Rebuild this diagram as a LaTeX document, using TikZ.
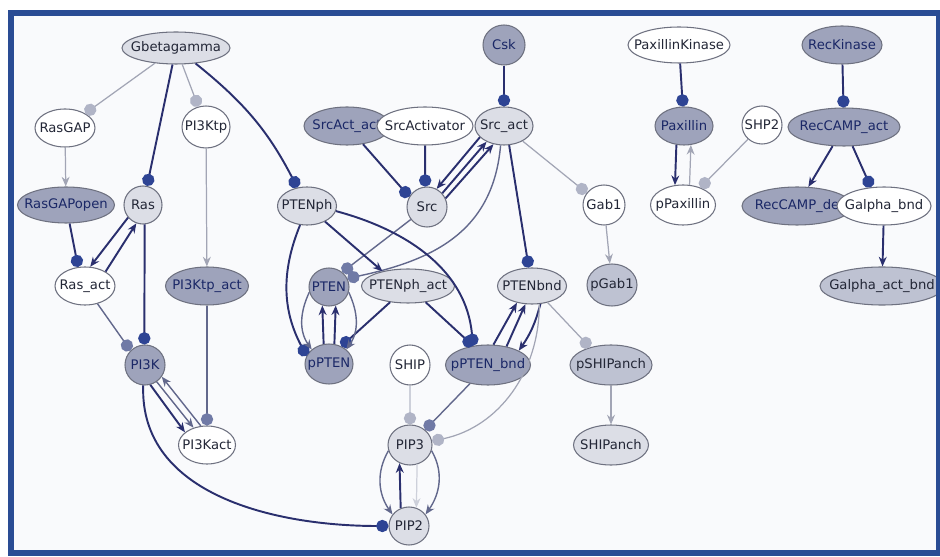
\documentclass[tikz,border=0pt]{standalone}
\usepackage{fontspec}
\setmainfont{DejaVu Sans}
\usetikzlibrary{shapes.geometric,arrows.meta}
\definecolor{navy}{HTML}{2A2F6E}
\definecolor{midln}{HTML}{62688C}
\definecolor{greyln}{HTML}{A2A5B5}
\definecolor{lightln}{HTML}{CDD0DA}
\definecolor{dotnavy}{HTML}{2E4494}
\definecolor{dotmid}{HTML}{707AA6}
\definecolor{dotgrey}{HTML}{B0B4C6}
\definecolor{bord}{HTML}{6E7180}
\definecolor{lfill}{HTML}{DCDEE6}
\definecolor{mfill}{HTML}{BEC2D2}
\definecolor{dfill}{HTML}{9EA3BB}
\definecolor{ntext}{HTML}{222636}
\definecolor{dtext}{HTML}{1A2766}
\definecolor{frame}{HTML}{2A4C94}
\definecolor{bgfill}{HTML}{F9FAFC}

\begin{document}
\begin{tikzpicture}[x=0.2mm,y=0.2mm]
\tikzstyle{every node}+=[inner sep=0pt]
\tikzstyle{nd}=[ellipse, draw=bord, line width=0.6pt, font=\fontsize{7.5}{9}\selectfont, text=ntext, execute at begin node={\hbox to 0pt\bgroup\hss}, execute at end node={\hss\egroup}]
\tikzstyle{wht}=[nd, fill=white]
\tikzstyle{lgt}=[nd, fill=lfill]
\tikzstyle{mid}=[nd, fill=mfill]
\tikzstyle{drk}=[nd, fill=dfill, text=dtext]
\tikzstyle{act}=[navy, line width=1.1pt, -{Stealth[length=5.5pt,width=4.5pt]}]
\tikzstyle{actm}=[midln, line width=0.8pt, -{Stealth[length=5.5pt,width=4.5pt]}]
\tikzstyle{actg}=[greyln, line width=0.7pt, -{Stealth[length=5.5pt,width=4.5pt]}]
\tikzstyle{actl}=[lightln, line width=0.7pt, -{Stealth[length=5.5pt,width=4.5pt]}]
\tikzstyle{bind}=[navy, line width=1.1pt, -{Circle[length=7pt,color=dotnavy]}]
\tikzstyle{bindm}=[midln, line width=0.8pt, -{Circle[length=7pt,color=dotmid]}]
\tikzstyle{bindg}=[greyln, line width=0.7pt, -{Circle[length=7pt,color=dotgrey]}]
\tikzstyle{bindl}=[lightln, line width=0.7pt, -{Circle[length=7pt,color=dotgrey]}]
\useasboundingbox (0,0) rectangle (940,-557);
\fill [bgfill] (11,-13) rectangle (939,-553);
\node [lgt, minimum width=21.6mm, minimum height=6.4mm] (gbg) at (176,-48) {Gbetagamma};
\node [wht, minimum width=12mm, minimum height=7.6mm] (rasgap) at (65,-128) {RasGAP};
\node [wht, minimum width=9.6mm, minimum height=8.4mm] (pi3ktp) at (206,-127) {PI3Ktp};
\node [drk, minimum width=19.4mm, minimum height=7.2mm] (rasgapo) at (66,-205) {RasGAPopen};
\node [lgt, minimum width=7.6mm, minimum height=7.6mm] (ras) at (143,-205) {Ras};
\node [lgt, minimum width=11.8mm, minimum height=7.6mm] (ptenph) at (307,-206) {PTENph};
\node [wht, minimum width=12mm, minimum height=7.6mm] (rasact) at (85,-286) {Ras\_act};
\node [drk, minimum width=16.6mm, minimum height=7.6mm] (pi3ktpact) at (207,-286) {PI3Ktp\_act};
\node [drk, minimum width=8mm, minimum height=8mm] (pi3k) at (145,-365) {PI3K};
\node [wht, minimum width=11.4mm, minimum height=7.6mm] (pi3kact) at (207,-445) {PI3Kact};
\node [drk, minimum width=8.4mm, minimum height=8mm] (csk) at (504,-45) {Csk};
\node [drk, minimum width=17.2mm, minimum height=7.6mm] (srcactact) at (347,-126) {SrcAct\_act};
\node [wht, minimum width=19.2mm, minimum height=7.6mm] (srcactv) at (425,-126) {SrcActivator};
\node [lgt, minimum width=11.6mm, minimum height=7.6mm] (srcact) at (504,-126) {Src\_act};
\node [lgt, minimum width=8mm, minimum height=8mm] (src) at (427,-207) {Src};
\node [wht, minimum width=8.4mm, minimum height=8mm] (gab1) at (604,-205) {Gab1};
\node [drk, minimum width=8mm, minimum height=7.6mm] (pten) at (329,-287) {PTEN};
\node [lgt, minimum width=18.6mm, minimum height=6.8mm] (ptenphact) at (408,-286) {PTENph\_act};
\node [lgt, minimum width=13.8mm, minimum height=7.2mm] (ptenbnd) at (532,-286) {PTENbnd};
\node [mid, minimum width=10mm, minimum height=8.4mm] (pgab1) at (612,-285) {pGab1};
\node [drk, minimum width=9.6mm, minimum height=8mm] (ppten) at (329,-364) {pPTEN};
\node [wht, minimum width=8mm, minimum height=8mm] (ship) at (410,-365) {SHIP};
\node [drk, minimum width=17mm, minimum height=8mm] (pptenbnd) at (488,-365) {pPTEN\_bnd};
\node [mid, minimum width=16.4mm, minimum height=8mm] (pshipanch) at (611,-365) {pSHIPanch};
\node [lgt, minimum width=8.8mm, minimum height=8mm] (pip3) at (410,-445) {PIP3};
\node [lgt, minimum width=15mm, minimum height=8mm] (shipanch) at (611,-445) {SHIPanch};
\node [lgt, minimum width=8mm, minimum height=7.6mm] (pip2) at (409,-526) {PIP2};
\node [wht, minimum width=20.4mm, minimum height=7.2mm] (paxk) at (679,-45) {PaxillinKinase};
\node [drk, minimum width=11.6mm, minimum height=7.6mm] (pax) at (684,-126) {Paxillin};
\node [wht, minimum width=8mm, minimum height=7.6mm] (shp2) at (762,-125) {SHP2};
\node [wht, minimum width=13mm, minimum height=8mm] (ppax) at (683,-205) {pPaxillin};
\node [drk, minimum width=16mm, minimum height=7.6mm] (reck) at (842,-45) {RecKinase};
\node [drk, minimum width=22.4mm, minimum height=7.6mm] (reccact) at (844,-127) {RecCAMP\_act};
\node [drk, minimum width=22mm, minimum height=7.6mm] (reccde) at (797,-206) {RecCAMP\_de};
\node [wht, minimum width=18.8mm, minimum height=7.6mm] (galb) at (884,-206) {Galpha\_bnd};
\node [mid, minimum width=24.8mm, minimum height=7.6mm] (galab) at (882,-286) {Galpha\_act\_bnd};
\draw [bindg] (gbg) -- (rasgap);
\draw [bind] (gbg) -- (ras);
\draw [bindg] (gbg) -- (pi3ktp);
\draw [bind] (gbg) to [bend left=12] (ptenph);
\draw [actg] (rasgap) -- (rasgapo);
\draw [bind] (rasgapo) -- (rasact.110);
\draw [act] (ras.220) -- (rasact.75);
\draw [act] (rasact.35) -- (ras.250);
\draw [actg] (pi3ktp) -- (pi3ktpact);
\draw [bind] (ras.-85) -- (pi3k.92);
\draw [bindm] (rasact) -- (pi3k.135);
\draw [act] (pi3k.285) -- (pi3kact.150);
\draw [actm] (pi3k.305) -- (pi3kact.128);
\draw [actm] (pi3kact.108) -- (pi3k.325);
\draw [bindm] (pi3ktpact) -- (pi3kact);
\draw [bind] (pi3k.265) to [out=-92,in=180] (pip2.180);
\draw [bind] (csk) -- (srcact);
\draw [bind] (srcactact) -- (src.150);
\draw [bind] (srcactv) -- (src.95);
\draw [act] (srcact.205) -- (src.62);
\draw [act] (src.42) -- (srcact.222);
\draw [act] (src.25) -- (srcact.240);
\draw [bind] (srcact.-75) -- (ptenbnd.100);
\draw [bindg] (srcact) -- (gab1.145);
\draw [bindm] (srcact.-100) to [out=-95,in=12,looseness=1.1] (pten.25);
\draw [bindm] (src) -- (pten.48);
\draw [act] (ptenph) -- (ptenphact.150);
\draw [bind] (ptenph.250) to [bend right=25] (ppten.160);
\draw [bind] (ptenph.-10) to [out=-15,in=95] (pptenbnd.128);
\draw [bind] (ptenphact) -- (ppten.55);
\draw [bind] (ptenphact) -- (pptenbnd.128);
\draw [act] (ppten.105) -- (pten.250);
\draw [act] (ppten.75) -- (pten.290);
\draw [actm] (pten.195) to [out=245,in=125] (ppten.140);
\draw [actm] (pten.-15) to [out=-65,in=55] (ppten.40);
\draw [act] (pptenbnd.75) -- (ptenbnd.228);
\draw [act] (pptenbnd.45) -- (ptenbnd.250);
\draw [act] (ptenbnd.295) to [bend left=10] (pptenbnd.25);
\draw [bindg] (ptenbnd) -- (pshipanch.140);
\draw [bindg] (ptenbnd.-68) to [out=-90,in=12] (pip3.10);
\draw [bindm] (pptenbnd) -- (pip3.45);
\draw [bindl] (ship) -- (pip3);
\draw [act] (pip2.115) -- (pip3.240);
\draw [actm] (pip3.195) to [out=240,in=125] (pip2.145);
\draw [actm] (pip3.-15) to [out=-60,in=55] (pip2.35);
\draw [actl] (pip3.-70) -- (pip2.68);
\draw [actg] (gab1) -- (pgab1);
\draw [actg] (pshipanch) -- (shipanch);
\draw [bind] (paxk) -- (pax);
\draw [act] (pax.-112) -- (ppax.112);
\draw [actg] (ppax.72) -- (pax.-70);
\draw [bindg] (shp2) -- (ppax.45);
\draw [bind] (reck) -- (reccact);
\draw [act] (reccact) -- (reccde);
\draw [bind] (reccact) -- (galb.125);
\draw [act] (galb) -- (galab);
\draw [frame, line width=3.4pt] (11,-13) rectangle (939,-553);
\end{tikzpicture}
\end{document}
